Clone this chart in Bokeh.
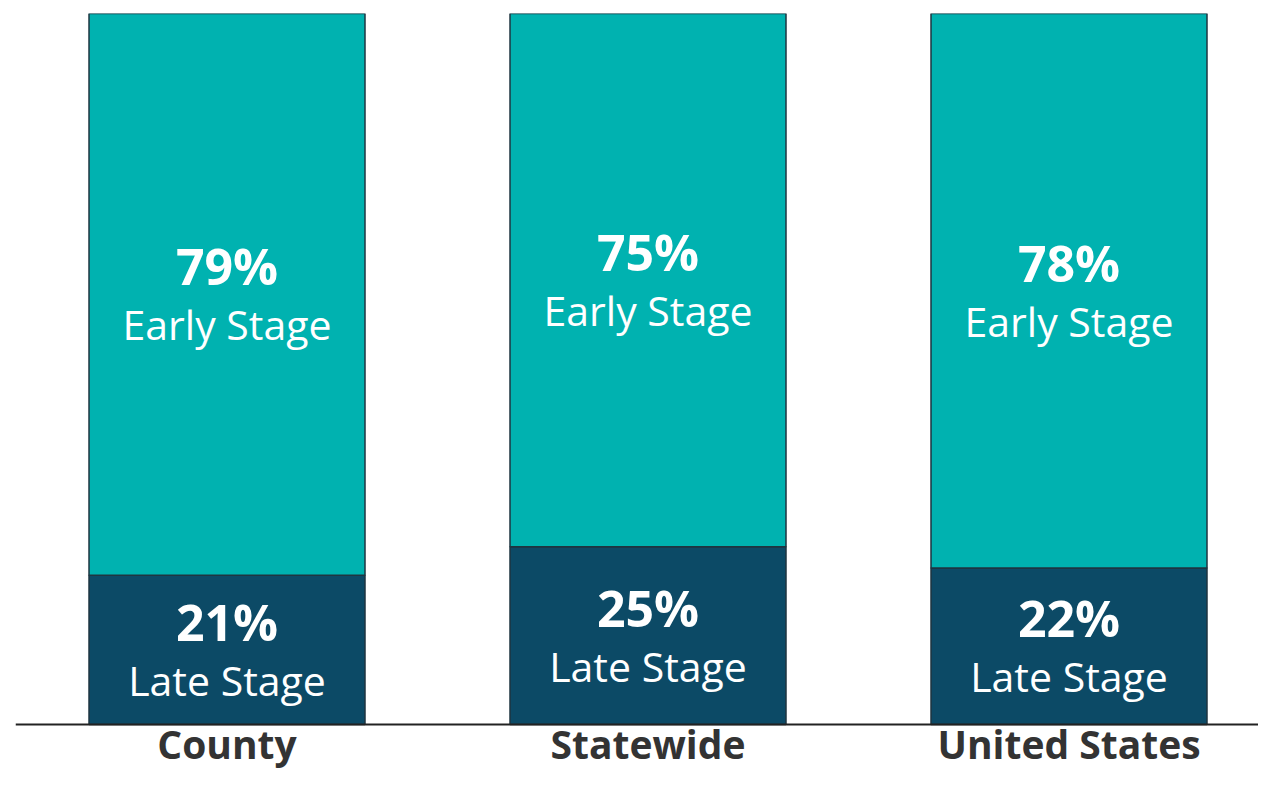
from bokeh.plotting import figure
from bokeh.models import ColumnDataSource, Range1d, Span
from bokeh.core.properties import value
from bokeh.embed import file_html
from bokeh.resources import INLINE

categories = ["County", "Statewide", "United States"]
late_stage = [21, 25, 22]
early_stage = [79, 75, 78]
late_label = "Late Stage"
early_label = "Early Stage"

TEAL = "#00B2B0"
NAVY = "#0C4A66"
EDGE = "#1E3540"

# layout (pixels)
W_FIG, H_FIG = 1258, 773
LEFT, TOP = 15, 13
BASE_PX = 724          # pixel row of the zero line
SPACING_PX = 421       # distance between bar centres
FIRST_PX = 226.5       # centre of first bar
BAR_PX = 276
CAT_PX = 743           # vertical centre of category labels

xs = list(range(len(categories)))
late_mid = [v / 2 for v in late_stage]
early_mid = [l + e / 2 for l, e in zip(late_stage, early_stage)]
early_top = [l + e for l, e in zip(late_stage, early_stage)]

ppu = (BASE_PX - TOP) / 100.0
y_start = -(H_FIG - BASE_PX) / ppu
x_start = -(FIRST_PX - LEFT) / SPACING_PX
x_end = x_start + (W_FIG - LEFT) / SPACING_PX
cat_y = -(CAT_PX - BASE_PX) / ppu

src = ColumnDataSource(dict(
    x=xs, late=late_stage, early=early_stage, early_top=early_top,
    late_mid=late_mid, early_mid=early_mid,
    late_txt=[f"{v}%" for v in late_stage],
    early_txt=[f"{v}%" for v in early_stage],
    late_lab=[late_label] * len(xs), early_lab=[early_label] * len(xs),
    cat=categories, cat_y=[cat_y] * len(xs),
))

p = figure(width=W_FIG, height=H_FIG,
           x_range=Range1d(x_start, x_end), y_range=Range1d(y_start, 100),
           x_axis_type=None, y_axis_type=None,
           output_backend="svg", toolbar_location=None,
           min_border_left=LEFT, min_border_right=0, min_border_top=TOP, min_border_bottom=0)
p.outline_line_color = None
p.xgrid.visible = False
p.ygrid.visible = False
p.background_fill_color = "white"
p.border_fill_color = "white"

W = BAR_PX / SPACING_PX
p.vbar(x="x", width=W, bottom=0, top="late", source=src,
       fill_color=NAVY, line_color=EDGE, line_width=1.5)
p.vbar(x="x", width=W, bottom="late", top="early_top", source=src,
       fill_color=TEAL, line_color=EDGE, line_width=1.5)

p.add_layout(Span(location=0, dimension="width", line_color="#222222", line_width=2))

font = value("Open Sans")
for mid, txt, lab in (("late_mid", "late_txt", "late_lab"),
                      ("early_mid", "early_txt", "early_lab")):
    p.text(x="x", y=mid, text=txt, source=src, text_font=font,
           text_font_style="bold", text_font_size="50px", text_color="white",
           text_align="center", text_baseline="middle", y_offset=-28)
    p.text(x="x", y=mid, text=lab, source=src, text_font=font,
           text_font_size="41px", text_color="white",
           text_align="center", text_baseline="middle", y_offset=30)

p.text(x="x", y="cat_y", text="cat", source=src, text_font=font,
       text_font_style="bold", text_font_size="39px", text_color="#333333",
       text_align="center", text_baseline="middle")

open("out.html", "w").write(file_html(p, INLINE))
